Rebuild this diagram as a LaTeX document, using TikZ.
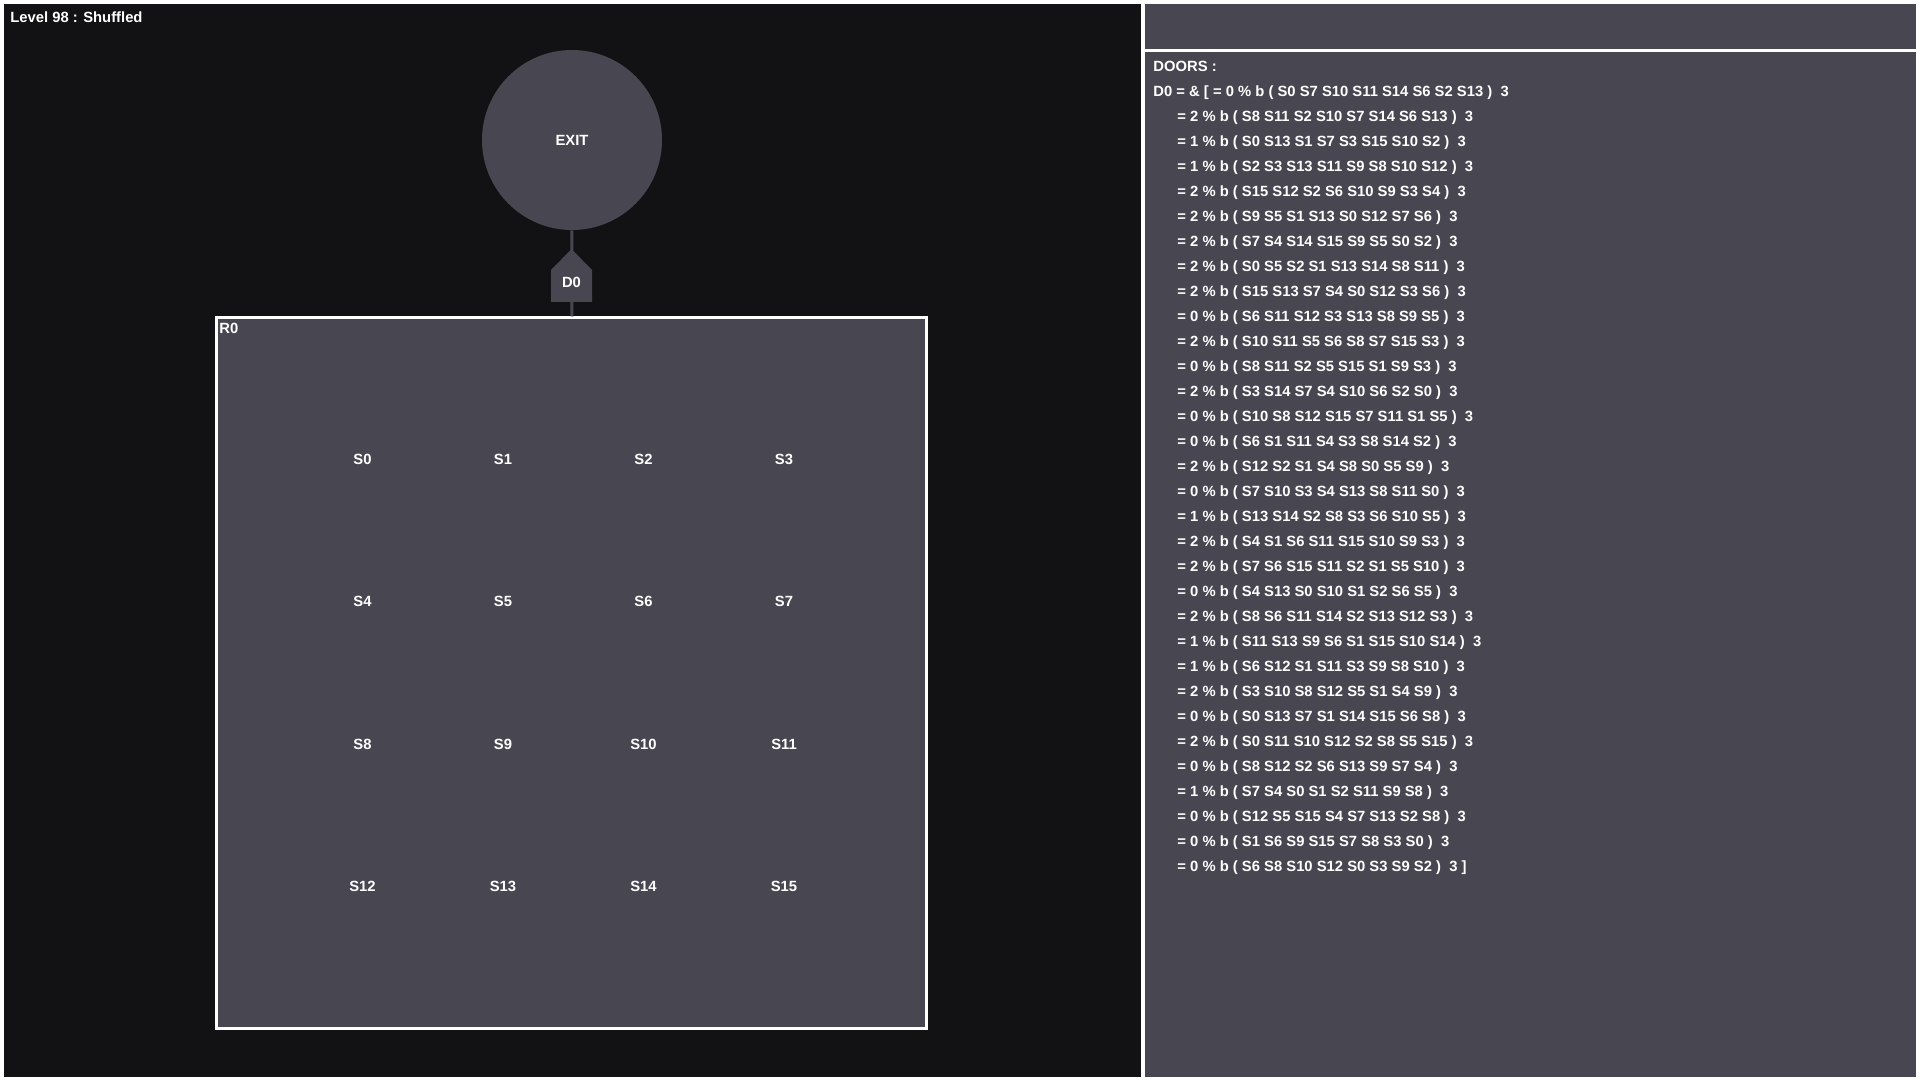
\documentclass[tikz,border=0pt]{standalone}
\usepackage{fontspec}
\setmainfont{Liberation Sans}
\definecolor{panelgray}{RGB}{72,70,80}
\definecolor{nightbg}{RGB}{18,18,20}
\begin{document}
\begin{tikzpicture}[x=0.5pt,y=-0.5pt]
    % --- styles ---
    \tikzset{
      lbl/.style={text=white,font=\fontsize{7.4}{12.5}\selectfont\bfseries,inner sep=0pt},
      exitnode/.style={circle,fill=panelgray,minimum size=90pt},
      roombox/.style={draw=white,line width=1.5pt,fill=panelgray,minimum width=355pt,minimum height=355pt,inner sep=0pt},
      link/.style={panelgray,line width=1.5pt},
    }
    \useasboundingbox (0,0) rectangle (1920,1080);

    % frame and panels
    \fill[white] (0,0) rectangle (1920,1080);
    \fill[nightbg] (4,4) rectangle (1141,1077);
    \fill[panelgray] (1145,4) rectangle (1916,49);
    \fill[panelgray] (1145,52) rectangle (1916,1077);

    \node[lbl,anchor=north west] (title) at (10,11) {Level 98 : Shuffled};

    % exit and room
    \node[exitnode,lbl] (exit) at (572,140) {EXIT};
    \node[roombox] (room) at (571.5,673) {};
    \node[lbl,anchor=north west] (r0) at (219,323) {R0};
    \draw[link] (exit) -- (room);

    % door between exit and room
    \fill[panelgray] (551,302) -- (592,302) -- (592,270) -- (571.5,249) -- (551,270) -- cycle;
    \node[lbl] (door) at (571.5,282) {D0};

    % slots S0..S15
    \foreach \r in {0,...,3}
      \foreach \c in {0,...,3}{
        \pgfmathtruncatemacro{\n}{4*\r+\c}
        \node[lbl] (s\n) at (362.5+140.5*\c,459.5+142.3*\r) {S\n};
      }

    % door list
    \newcommand\ind{\hspace*{12pt}}
    \node[lbl,anchor=north west,align=left] (doors) at (1153,61) {DOORS :\\
      D0 = \& [ = 0 \% b ( S0 S7 S10 S11 S14 S6 S2 S13 )~~3\\
      \ind= 2 \% b ( S8 S11 S2 S10 S7 S14 S6 S13 )~~3\\
      \ind= 1 \% b ( S0 S13 S1 S7 S3 S15 S10 S2 )~~3\\
      \ind= 1 \% b ( S2 S3 S13 S11 S9 S8 S10 S12 )~~3\\
      \ind= 2 \% b ( S15 S12 S2 S6 S10 S9 S3 S4 )~~3\\
      \ind= 2 \% b ( S9 S5 S1 S13 S0 S12 S7 S6 )~~3\\
      \ind= 2 \% b ( S7 S4 S14 S15 S9 S5 S0 S2 )~~3\\
      \ind= 2 \% b ( S0 S5 S2 S1 S13 S14 S8 S11 )~~3\\
      \ind= 2 \% b ( S15 S13 S7 S4 S0 S12 S3 S6 )~~3\\
      \ind= 0 \% b ( S6 S11 S12 S3 S13 S8 S9 S5 )~~3\\
      \ind= 2 \% b ( S10 S11 S5 S6 S8 S7 S15 S3 )~~3\\
      \ind= 0 \% b ( S8 S11 S2 S5 S15 S1 S9 S3 )~~3\\
      \ind= 2 \% b ( S3 S14 S7 S4 S10 S6 S2 S0 )~~3\\
      \ind= 0 \% b ( S10 S8 S12 S15 S7 S11 S1 S5 )~~3\\
      \ind= 0 \% b ( S6 S1 S11 S4 S3 S8 S14 S2 )~~3\\
      \ind= 2 \% b ( S12 S2 S1 S4 S8 S0 S5 S9 )~~3\\
      \ind= 0 \% b ( S7 S10 S3 S4 S13 S8 S11 S0 )~~3\\
      \ind= 1 \% b ( S13 S14 S2 S8 S3 S6 S10 S5 )~~3\\
      \ind= 2 \% b ( S4 S1 S6 S11 S15 S10 S9 S3 )~~3\\
      \ind= 2 \% b ( S7 S6 S15 S11 S2 S1 S5 S10 )~~3\\
      \ind= 0 \% b ( S4 S13 S0 S10 S1 S2 S6 S5 )~~3\\
      \ind= 2 \% b ( S8 S6 S11 S14 S2 S13 S12 S3 )~~3\\
      \ind= 1 \% b ( S11 S13 S9 S6 S1 S15 S10 S14 )~~3\\
      \ind= 1 \% b ( S6 S12 S1 S11 S3 S9 S8 S10 )~~3\\
      \ind= 2 \% b ( S3 S10 S8 S12 S5 S1 S4 S9 )~~3\\
      \ind= 0 \% b ( S0 S13 S7 S1 S14 S15 S6 S8 )~~3\\
      \ind= 2 \% b ( S0 S11 S10 S12 S2 S8 S5 S15 )~~3\\
      \ind= 0 \% b ( S8 S12 S2 S6 S13 S9 S7 S4 )~~3\\
      \ind= 1 \% b ( S7 S4 S0 S1 S2 S11 S9 S8 )~~3\\
      \ind= 0 \% b ( S12 S5 S15 S4 S7 S13 S2 S8 )~~3\\
      \ind= 0 \% b ( S1 S6 S9 S15 S7 S8 S3 S0 )~~3\\
      \ind= 0 \% b ( S6 S8 S10 S12 S0 S3 S9 S2 )~~3 ]};
\end{tikzpicture}
\end{document}
